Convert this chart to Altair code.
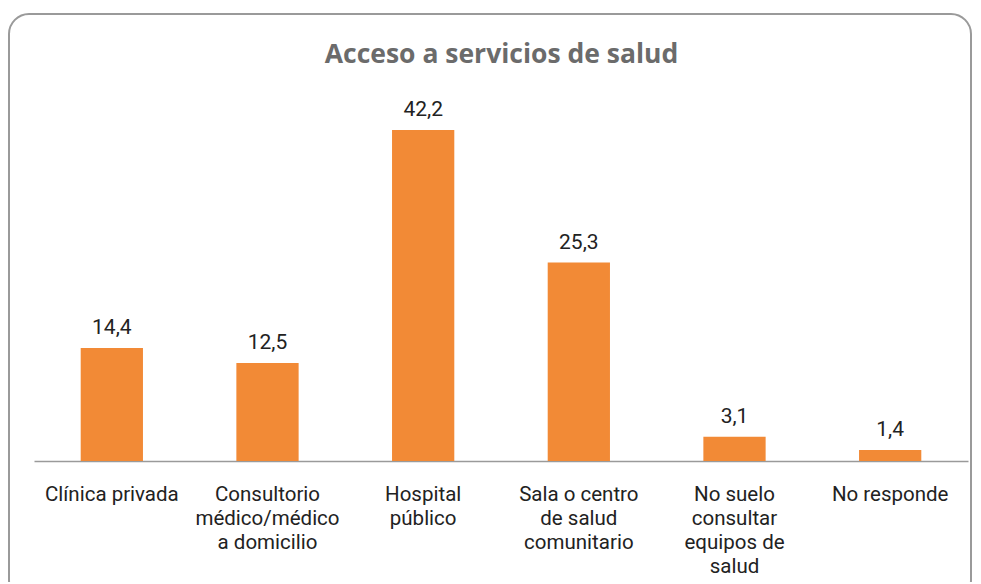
import altair as alt
import pandas as pd

categories = [
    "Clínica privada",
    "Consultorio|médico/médico|a domicilio",
    "Hospital|público",
    "Sala o centro|de salud|comunitario",
    "No suelo|consultar|equipos de|salud",
    "No responde",
]
values = [14.4, 12.5, 42.2, 25.3, 3.1, 1.4]
title_text = "Acceso a servicios de salud"

df = pd.DataFrame({
    "cat": categories,
    "val": values,
    "lbl": [f"{v:.1f}".replace(".", ",") for v in values],
})

W, H = 934, 371
ORANGE = "#f28a36"

base = alt.Chart(df).encode(
    x=alt.X(
        "cat:N",
        sort=categories,
        scale=alt.Scale(paddingInner=0.6, paddingOuter=0.3),
        axis=alt.Axis(
            title=None,
            ticks=False,
            tickSize=0,
            labelAngle=0,
            labelPadding=23,
            labelFont="Roboto",
            labelFontSize=20.5,
            labelColor="#222222",
            labelLineHeight=24,
            labelExpr="split(datum.label, '|')",
            domainColor="#9a9a9a",
            domainWidth=1.5,
            grid=False,
        ),
    ),
    y=alt.Y("val:Q", scale=alt.Scale(domain=[0, 47.3], nice=False, zero=True), axis=None),
)

bars = base.mark_bar(color=ORANGE)
texts = base.mark_text(
    font="Roboto", fontSize=21, color="#222222", baseline="alphabetic", dy=-14
).encode(text="lbl:N")

frame = alt.Chart(pd.DataFrame({"a": [0]})).mark_rect(
    filled=False, stroke="#9a9a9a", strokeWidth=2, cornerRadius=20
).encode(
    x=alt.value(-25), x2=alt.value(937), y=alt.value(-76), y2=alt.value(510)
)

title = alt.Chart(pd.DataFrame({"t": [title_text]})).mark_text(
    font="Open Sans", fontSize=26.5, fontWeight="bold", color="#6b6b6b",
    baseline="alphabetic", align="center"
).encode(text="t:N", x=alt.value(467.5), y=alt.value(-27))

chart = alt.layer(frame, bars, texts, title).properties(
    width=W, height=H,
    autosize=alt.AutoSizeParams(type="none"),
    padding={"left": 26, "top": 82, "right": 5, "bottom": 121},
).configure_view(stroke=None)

chart.save("out.html", embed_options={"renderer": "svg", "actions": False})
